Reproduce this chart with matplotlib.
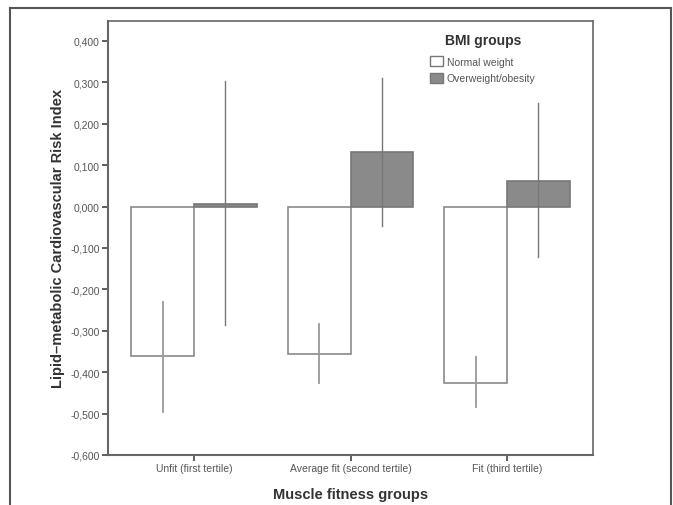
import numpy as np
import matplotlib.pyplot as plt
from matplotlib.lines import Line2D
from matplotlib.patches import Patch

plt.rcParams['font.family'] = ['Liberation Sans', 'DejaVu Sans']

# ---------------- dados ----------------
grupos = ['Unfit (first tertile)', 'Average fit (second tertile)', 'Fit (third tertile)']
normal_media = [-0.362, -0.355, -0.425]
normal_inf   = [-0.496, -0.426, -0.483]
normal_sup   = [-0.231, -0.283, -0.364]
sobre_media  = [0.006, 0.131, 0.062]
sobre_inf    = [-0.286, -0.047, -0.123]
sobre_sup    = [0.303, 0.310, 0.249]
yticks = [0.4, 0.3, 0.2, 0.1, 0.0, -0.1, -0.2, -0.3, -0.4, -0.5, -0.6]

cinza_txt = '#555555'
cinza_linha = '#8a8a8a'

fig = plt.figure(figsize=(6.73, 5.06), dpi=100)
ax = fig.add_axes([108/673, 1 - 456/506, (593 - 108)/673, (456 - 22)/506])

x = np.arange(len(grupos))
w = 0.4

ax.bar(x - w/2, normal_media, width=w, color='white', edgecolor=cinza_linha, linewidth=1.2,
       label='Normal weight', zorder=2)
ax.bar(x + w/2, sobre_media, width=w, color='#8a8a8a', edgecolor='#777777', linewidth=1.2,
       label='Overweight/obesity', zorder=2)

# barras de erro (IC)
for i in range(len(grupos)):
    ax.plot([x[i] - w/2, x[i] - w/2], [normal_inf[i], normal_sup[i]],
            color='#999999', linewidth=1.3, zorder=3)
    ax.plot([x[i] + w/2, x[i] + w/2], [sobre_inf[i], sobre_sup[i]],
            color='#777777', linewidth=1.0, zorder=3)

ax.set_xlim(-0.55, 2.55)
ax.set_ylim(-0.6, 0.448)
ax.set_yticks(yticks)
ax.set_yticklabels([f'{v:.3f}'.replace('.', ',').replace('-0,000', '0,000') for v in yticks],
                   fontsize=7.5, color=cinza_txt)
ax.set_xticks(x)
ax.set_xticklabels(grupos, fontsize=7.5, color=cinza_txt)
ax.tick_params(axis='both', length=4, width=1.2, color='#444444', pad=2)

for s in ax.spines.values():
    s.set_color('#666666')
    s.set_linewidth(1.2)
ax.spines['left'].set_linewidth(1.5)
ax.spines['bottom'].set_linewidth(1.5)

ax.set_ylabel('Lipid\u2013metabolic Cardiovascular Risk Index', fontsize=10.5,
              fontweight='bold', color='#333333', labelpad=4)
ax.set_xlabel('Muscle fitness groups', fontsize=10.5, fontweight='bold', color='#333333',
              labelpad=10)

handles = [Patch(facecolor='white', edgecolor='#777777', linewidth=1.0),
           Patch(facecolor='#8a8a8a', edgecolor='#777777', linewidth=1.0)]
leg = ax.legend(handles, ['Normal weight', 'Overweight/obesity'], title='BMI groups',
                loc='upper left', bbox_to_anchor=(0.645, 0.995), frameon=False,
                fontsize=7.5, title_fontsize=10, handlelength=1.2, handleheight=1.1,
                handletextpad=0.4, labelspacing=0.55)
leg.get_title().set_fontweight('bold')
leg.get_title().set_color('#333333')
leg._legend_box.sep = 7
for t in leg.get_texts():
    t.set_color(cinza_txt)

# moldura externa
moldura = dict(color='#555555', linewidth=1.5, transform=fig.transFigure)
fig.add_artist(Line2D([10/673, 10/673], [0, 1 - 9/506], **moldura))
fig.add_artist(Line2D([10/673, 671/673], [1 - 9/506, 1 - 9/506], **moldura))
fig.add_artist(Line2D([671/673, 671/673], [0, 1 - 9/506], **moldura))

fig.savefig('out.png', dpi=100)
